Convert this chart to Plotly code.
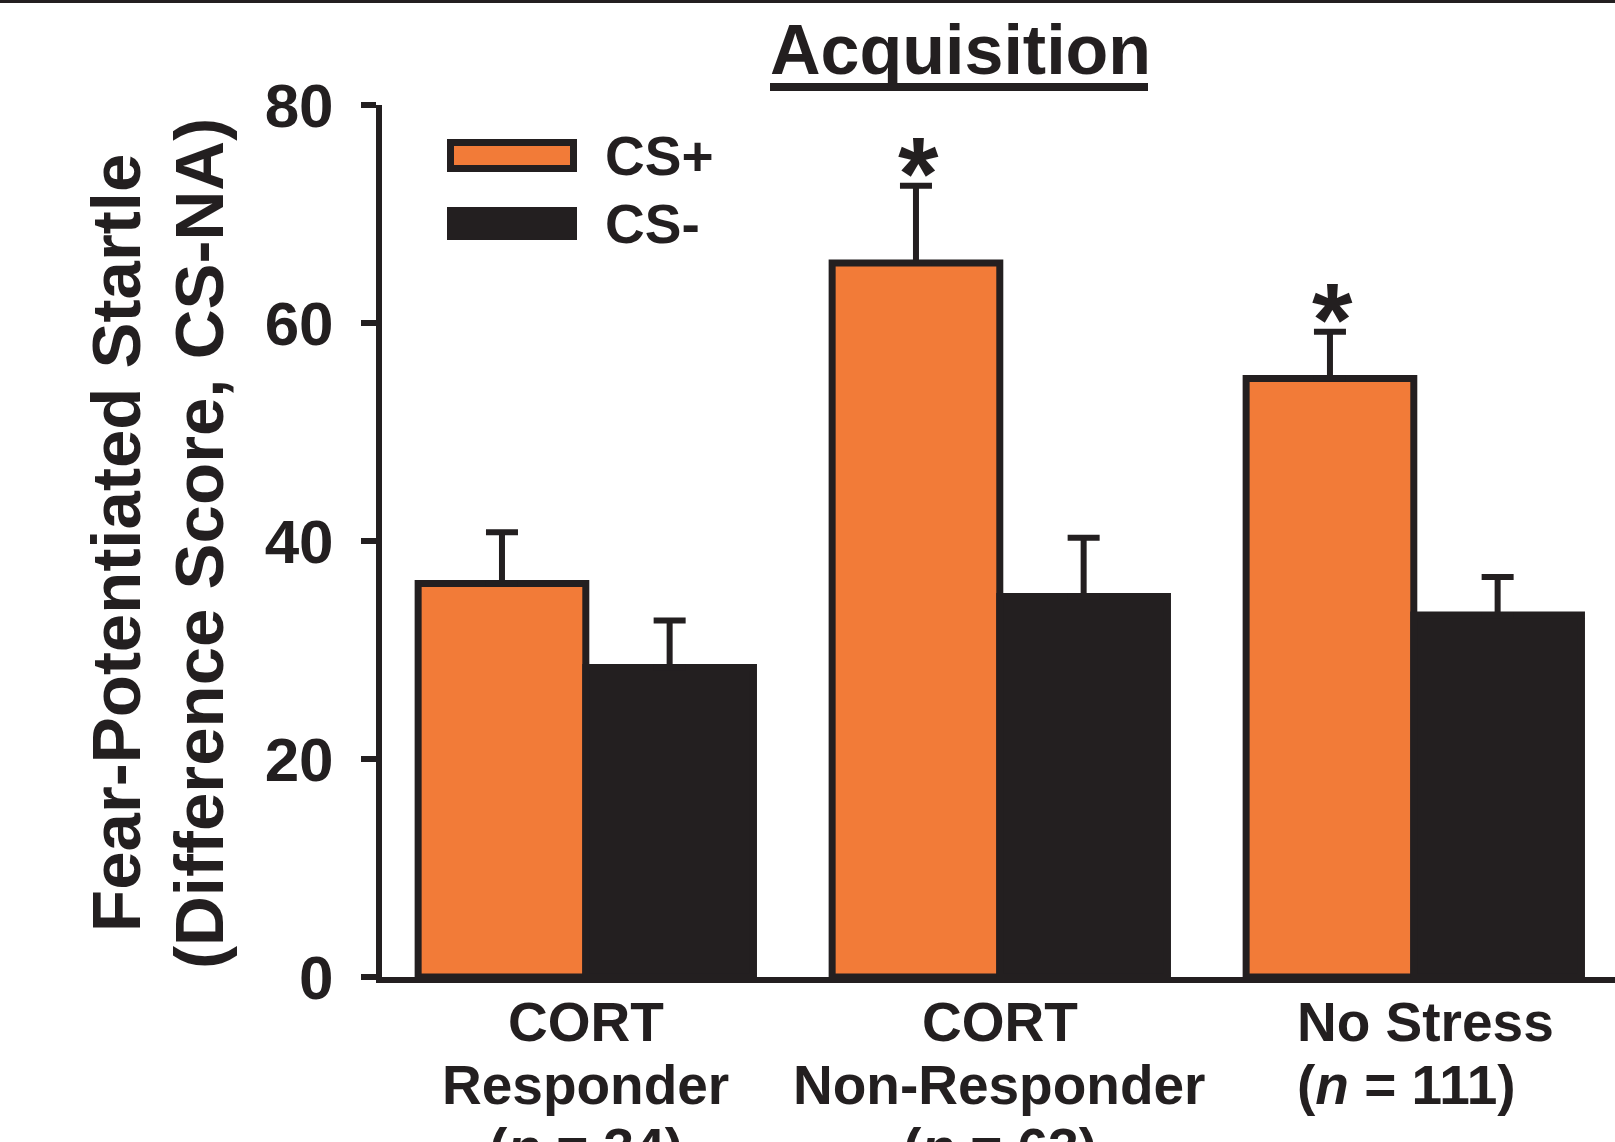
import plotly.graph_objects as go

# ---------------- data ----------------
group_x = [0, 1, 2]
group_label_lines = [
    ["CORT", "Responder", "(<i>n</i> = 34)"],
    ["CORT", "Non-Responder", "(<i>n</i> = 63)"],
    ["No Stress", "(<i>n</i> = 111)"],
]
cs_plus = [36.1, 65.5, 54.9]
cs_plus_err = [4.7, 7.1, 4.3]
cs_minus = [28.4, 34.9, 33.2]
cs_minus_err = [4.3, 5.4, 3.5]
significant = [False, True, True]
y_ticks = [0, 20, 40, 60, 80]
series_names = ["CS+", "CS-"]
title_text = "Acquisition"
y_title_lines = ["Fear-Potentiated Startle", "(Difference Score, CS-NA)"]

# ---------------- style ----------------
W, H = 1615, 1142
L, R, T, B = 382, 0, 105, 165
PW, PH = W - L - R, H - T - B
ORANGE = "#F27B38"
DARK = "#231F20"
FONT = "Liberation Sans, Arial, Helvetica, sans-serif"
BAR_W = 0.405
X_RANGE = [-0.4923, 2.486]
label_align = ["center", "center", "left"]
label_xshift = [0, 0, -119]


def px2x(px):
    return (px - L) / PW


def py2y(py):
    return (H - B - py) / PH


fig = go.Figure()
fig.add_trace(go.Bar(
    x=group_x, y=cs_plus, width=BAR_W, offset=-BAR_W, name=series_names[0],
    marker=dict(color=ORANGE, line=dict(color=DARK, width=7)),
    error_y=dict(type="data", array=cs_plus_err, arrayminus=[0] * 3, symmetric=False,
                 color=DARK, thickness=6, width=16),
    showlegend=False,
))
fig.add_trace(go.Bar(
    x=group_x, y=cs_minus, width=BAR_W, offset=0, name=series_names[1],
    marker=dict(color=DARK, line=dict(color=DARK, width=7)),
    error_y=dict(type="data", array=cs_minus_err, arrayminus=[0] * 3, symmetric=False,
                 color=DARK, thickness=6, width=16),
    showlegend=False,
))

annotations = []
# significance asterisks
for gx, v, e, s in zip(group_x, cs_plus, cs_plus_err, significant):
    if s:
        annotations.append(dict(x=gx - BAR_W / 2, y=v + e, xref="x", yref="y", text="<b>*</b>",
                                showarrow=False, yanchor="middle", yshift=12, xshift=3,
                                font=dict(family=FONT, size=104, color=DARK)))
# category labels (multi-line)
for gx, lines, al, xs in zip(group_x, group_label_lines, label_align, label_xshift):
    for k, line in enumerate(lines):
        annotations.append(dict(x=gx, y=0, xref="x", yref="paper", text="<b>%s</b>" % line,
                                showarrow=False, xanchor=al, xshift=xs, yanchor="middle",
                                yshift=-(45 + 63 * k),
                                font=dict(family=FONT, size=55, color=DARK)))
# title
annotations.append(dict(x=px2x(960), y=py2y(50), xref="paper", yref="paper",
                        text="<b>%s</b>" % title_text, showarrow=False, yanchor="middle",
                        font=dict(family=FONT, size=70, color=DARK)))
# y-axis title (two lines)
for cx, line in zip([116, 199], y_title_lines):
    annotations.append(dict(x=px2x(cx), y=py2y(543), xref="paper", yref="paper",
                            text="<b>%s</b>" % line,
                            textangle=-90, showarrow=False, xanchor="center", yanchor="middle",
                            font=dict(family=FONT, size=69, color=DARK)))
# legend
leg_rows = [(155.5, ORANGE), (223.5, DARK)]
shapes = []
for (cy, col), name in zip(leg_rows, series_names):
    shapes.append(dict(type="rect", xref="paper", yref="paper",
                       x0=px2x(450.5), x1=px2x(573.5), y0=py2y(cy - 13), y1=py2y(cy + 13),
                       fillcolor=col, line=dict(color=DARK, width=7)))
    annotations.append(dict(x=px2x(603), y=py2y(cy), xref="paper", yref="paper",
                            text="<b>%s</b>" % name, showarrow=False, xanchor="left",
                            yanchor="middle", font=dict(family=FONT, size=55, color=DARK)))
# title underline
shapes.append(dict(type="line", xref="paper", yref="paper", x0=px2x(770), x1=px2x(1148),
                   y0=py2y(87), y1=py2y(87), line=dict(color=DARK, width=8)))
# top border
shapes.append(dict(type="line", xref="paper", yref="paper", x0=px2x(0), x1=px2x(W),
                   y0=py2y(1.5), y1=py2y(1.5), line=dict(color=DARK, width=3)))

fig.update_layout(
    width=W, height=H,
    margin=dict(l=L, r=R, t=T, b=B, pad=0),
    paper_bgcolor="white", plot_bgcolor="white",
    barmode="overlay",
    annotations=annotations, shapes=shapes,
    showlegend=False,
    xaxis=dict(range=X_RANGE, showgrid=False, zeroline=False, showticklabels=False,
               ticks="", showline=True, linecolor=DARK, linewidth=6),
    yaxis=dict(range=[0, 80], tickvals=y_ticks, showgrid=False, zeroline=False,
               showline=True, linecolor=DARK, linewidth=6, ticks="outside", ticklen=15,
               tickwidth=6, tickcolor=DARK, ticklabelstandoff=15,
               tickfont=dict(family=FONT, size=62, color=DARK, weight="bold")),
)
fig.write_html("out.html", config={"displayModeBar": False},
               post_script="document.body.style.margin='0';document.body.style.overflow='hidden';")
